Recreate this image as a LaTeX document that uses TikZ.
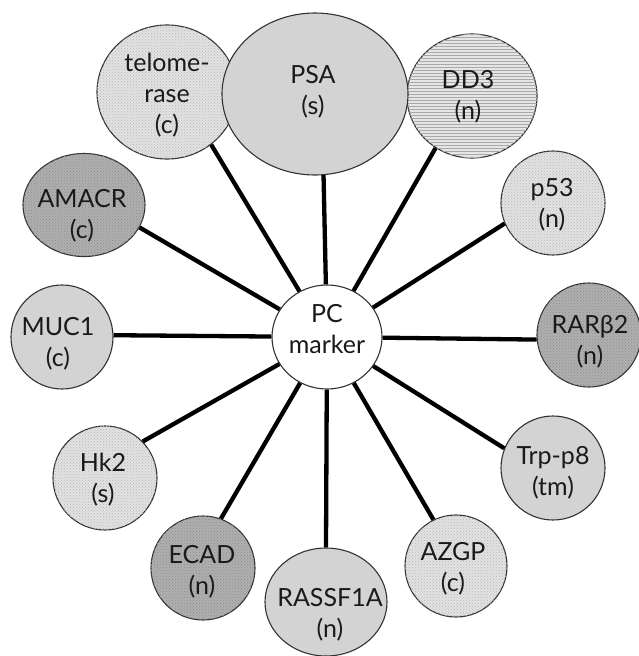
\documentclass[tikz,border=0pt]{standalone}
\usepackage{fontspec}
\setmainfont{Lato}
\usetikzlibrary{shapes.geometric,patterns}
\definecolor{edgec}{HTML}{333333}
\definecolor{ltfill}{HTML}{E2E2E2}
\definecolor{ltdot}{HTML}{B8B8B8}
\definecolor{mdfill}{HTML}{D3D3D3}
\definecolor{dkfill}{HTML}{AFAFAF}
\definecolor{dkdot}{HTML}{8E8E8E}
\definecolor{stfill}{HTML}{E6E6E6}
\definecolor{stline}{HTML}{A8A8A8}
\definecolor{txtc}{HTML}{1A1A1A}
\begin{document}
\begin{tikzpicture}[x=1pt,y=-1pt,
  mk/.style={ellipse, draw=edgec, line width=1.1pt, inner sep=0pt},
  litedot/.style={mk, fill=ltfill, postaction={pattern=crosshatch dots, pattern color=ltdot}},
  darkdot/.style={mk, fill=dkfill, postaction={pattern=crosshatch dots, pattern color=dkdot}},
  smooth/.style={mk, fill=mdfill},
  striped/.style={mk, fill=stfill, postaction={pattern=horizontal lines, pattern color=stline}},
  centre/.style={mk, fill=white},
  txt/.style={align=center, inner sep=0pt, text=txtc, font=\fontsize{25}{31}\selectfont},
  link/.style={line width=4.3pt, draw=black}
]
\useasboundingbox (0,0) rectangle (638,656);

% nodes
\node[litedot, minimum width=140pt, minimum height=134pt] (tel) at (167,92) {};
\node[striped, minimum width=130pt, minimum height=124pt] (dd3) at (472,96) {};
\node[smooth, minimum width=186pt, minimum height=162pt] (psa) at (315,94) {};
\node[darkdot, minimum width=122pt, minimum height=103pt] (amacr) at (84,205) {};
\node[smooth, minimum width=102pt, minimum height=104pt] (muc1) at (62,337) {};
\node[litedot, minimum width=104pt, minimum height=104pt] (hk2) at (105,478) {};
\node[darkdot, minimum width=104pt, minimum height=104pt] (ecad) at (203,568) {};
\node[smooth, minimum width=122pt, minimum height=108pt] (rassf) at (326,602) {};
\node[litedot, minimum width=102pt, minimum height=102pt] (azgp) at (456,566) {};
\node[smooth, minimum width=104pt, minimum height=104pt] (trp) at (553,468) {};
\node[darkdot, minimum width=104pt, minimum height=104pt] (rar) at (589,335) {};
\node[litedot, minimum width=104pt, minimum height=104pt] (p53) at (553,203) {};
\node[centre, minimum width=110pt, minimum height=104pt] (pc) at (327,337) {};

% labels
\node[txt] (tel-t) at (167,95) {telome-\\rase\\(c)};
\node[txt] (psa-t) at (313,92) {PSA\\(s)};
\node[txt] (dd3-t) at (468,97) {DD3\\(n)};
\node[txt] (p53-t) at (552,205) {p53\\(n)};
\node[txt] (rar-t) at (590,342) {RARβ2\\(n)};
\node[txt] (trp-t) at (553,473) {Trp-p8\\(tm)};
\node[txt] (azgp-t) at (453,569) {AZGP\\(c)};
\node[txt] (rassf-t) at (330,615) {RASSF1A\\(n)};
\node[txt] (ecad-t) at (202,572) {ECAD\\(n)};
\node[txt] (hk2-t) at (103,480) {Hk2\\(s)};
\node[txt] (muc1-t) at (58,344) {MUC1\\(c)};
\node[txt] (amacr-t) at (82,216) {AMACR\\(c)};
\node[txt] (pc-t) at (327,329) {PC\\marker};

% connectors
\draw[link] (tel.-50) -- (pc);
\draw[link] (psa.-84) -- (pc);
\draw[link] (dd3.-125) -- (pc);
\draw[link] (p53.-157) -- (pc);
\draw[link] (rar.-175) -- (pc);
\draw[link] (trp.158) -- (pc);
\draw[link] (azgp.116) -- (pc);
\draw[link] (rassf.north) -- (pc);
\draw[link] (ecad.70) -- (pc);
\draw[link] (hk2.44) -- (pc);
\draw[link] (muc1.2) -- (pc);
\draw[link] (amacr.-22) -- (pc);
\end{tikzpicture}
\end{document}
